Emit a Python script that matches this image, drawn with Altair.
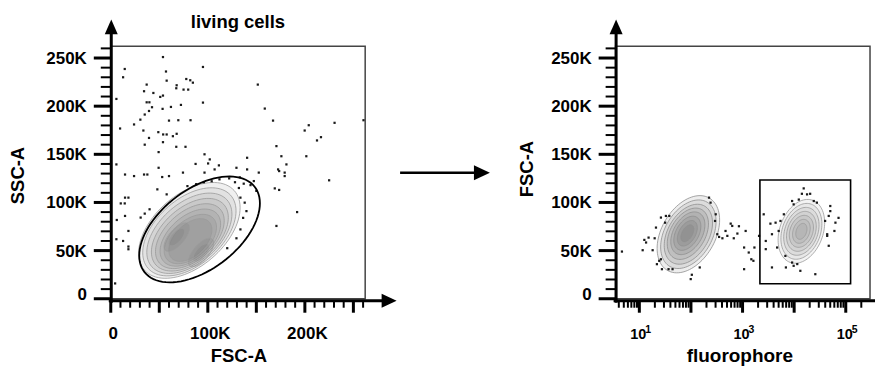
import altair as alt
import numpy as np
import pandas as pd

W, H = 255, 253
FONT = "Liberation Sans"
FULL = 262144

# ---------------- left panel: living cells (values in thousands) ----------------
left_fsc = [53.8, 14.4, 12.7, 56.9, 57.6, 95, 67.9, 77.8, 81.9, 84.6,
            79.8, 75, 67.5, 37, 43.9, 34.3, 5.8, 37, 39.8, 51,
            53.8, 53.4, 62, 72.3, 95, 42.5, 39.4, 35, 30.5, 24,
            9.6, 60, 69.6, 82.2, 33.6, 39.4, 49, 54, 57.6, 64,
            67.9, 67.5, 35, 49.3, 53.8, 77, 5.8, 14.7, 24, 34.3,
            37.7, 49.3, 60, 74.4, 87.4, 96.6, 102, 100.3, 111.4, 96.6,
            107, 129.5, 140.5, 140.5, 152.5, 151.5, 158.7, 167.2, 230.6, 260.4,
            199.8, 204, 212.5, 216.6, 201.5, 170.7, 175.8, 172.4, 173.5, 179.2,
            181, 179.2, 225, 192, 170.7, 169, 173.5, 6.2, 5.8, 10.3,
            14.4, 14.7, 18.2, 14.7, 18.2, 18.2, 18.2, 12.7, 4.5, 30.8,
            35, 40, 48, 57.6, 53, 132, 133.6, 138, 139.8, 136.4,
            133.6, 129.5, 120, 137, 147.4, 79, 88, 96, 104, 112,
            122, 128, 133, 144, 150]
left_ssc = [251, 238.6, 230, 236, 226.5, 240.7, 221.7, 228.2, 226.9, 224.4,
            217.2, 217.2, 218.6, 222.4, 213.7, 215.5, 207.5, 204, 204, 209.6,
            211, 197.2, 199.2, 201.3, 203.7, 198.9, 195, 191.3, 186, 181,
            176.8, 185, 185.4, 185.4, 174.7, 167, 173, 170.6, 170.6, 168.8,
            171.3, 157.8, 160, 152.3, 162.6, 157.8, 139.5, 129, 127.4, 129,
            129, 136, 127.4, 131, 140, 150, 144.7, 140.5, 138.5, 131,
            134.3, 136, 146.4, 134.3, 131, 222.4, 197.5, 185, 182.7, 185.4,
            174.7, 180.2, 164.4, 167.8, 148, 158.5, 148, 134.3, 132.6, 131,
            139.5, 127.4, 123, 90, 75.6, 114.6, 113, 81.8, 61.8, 99,
            99, 105, 105, 86, 70.4, 54.2, 51.4, 60, 15.9, 84.3,
            88.4, 92.9, 113.6, 108.4, 126.4, 115, 105, 99.8, 91, 84,
            72, 62.8, 52.5, 119.5, 122.2, 117, 119, 121, 122, 124,
            125, 121, 126, 118, 112]

# density contour levels (thousands): centre, semi-axes, angle
left_cont_cx = [81, 81, 81, 81.5, 81.5, 82, 82, 82, 68, 68, 93, 93]
left_cont_cy = [71, 69.5, 68, 66.5, 65, 63.5, 62, 61, 64, 64, 48, 48]
left_cont_a = [62, 57, 52, 47, 42, 37, 32, 27, 18, 11, 18, 11]
left_cont_b = [37, 34, 31, 28, 25, 22, 19, 16, 8, 5, 8, 5]
left_cont_ang = [42, 42, 42, 42, 42, 42, 42, 45, 50, 50, 50, 50]

# living-cell gate (ellipse)
gate_cx, gate_cy, gate_a, gate_b, gate_ang = [91.5], [72], [72], [41.3], [38]

# ---------------- right panel: fluorophore vs FSC-A ----------------
right_fluo = [4.6, 12.5, 11.6, 13.5, 15.1, 18.1, 19.8, 21, 26.2, 32.7,
              38, 31.6, 21.9, 24.3, 26.2, 27.4, 36.8, 44, 99, 104,
              148, 224, 240, 302, 293, 324, 351, 407, 507, 589,
              631, 794, 851, 468, 676, 1148, 1072, 1318, 1479, 1622,
              1072, 1698, 2089, 2570, 2818, 2818, 3467, 4365, 3715, 3715,
              4677, 5012, 5433, 6918, 6310, 9120, 9772, 12300, 15310, 14125,
              17780, 20420, 23990, 27540, 50120, 50120, 46770, 39810, 63100, 72440,
              60260, 43650, 43650, 46770, 9120, 9772, 11480, 13180, 25700, 6760]
right_fsc = [49, 61.1, 50.4, 58.4, 63.5, 50.4, 62.8, 73.9, 84.3, 86,
             86, 79, 35.9, 39.4, 41, 30.7, 30.7, 30.7, 20.4, 24.9,
             32.5, 105, 99.8, 87.7, 80.8, 67, 64.2, 62.8, 65.3, 78,
             75.6, 67.7, 75.3, 70.4, 62.8, 70.4, 53.2, 48, 41, 39.4,
             30.7, 53.2, 65.3, 87.7, 60, 51.5, 78, 79, 67, 32.5,
             53.2, 70.4, 80.8, 32.5, 87.7, 101.5, 98, 103, 114.6, 109,
             108.4, 109, 101.5, 99.8, 96.3, 91, 86, 80.8, 79, 84,
             70.4, 67, 65.3, 55, 37.6, 34.2, 36, 29, 25.5, 44.5]

# contours (log10 centre, FSC-A centre in thousands, semi-axes in decades, angle)
# negative population
neg_cont_cx = [1.95, 1.95, 1.95, 1.94, 1.94, 1.93, 1.93, 1.93]
neg_cont_cy = [67, 67, 67, 67.5, 68, 68, 68, 68]
neg_cont_a = [0.81, 0.72, 0.63, 0.54, 0.45, 0.36, 0.27, 0.18]
neg_cont_b = [0.52, 0.46, 0.40, 0.34, 0.28, 0.22, 0.16, 0.10]
neg_cont_ang = [60, 60, 60, 60, 60, 60, 60, 60]
# positive population
pos_cont_cx = [4.14, 4.14, 4.14, 4.14, 4.14, 4.14, 4.14]
pos_cont_cy = [70, 70, 70, 70, 70, 70, 70]
pos_cont_a = [0.64, 0.56, 0.48, 0.40, 0.32, 0.24, 0.16]
pos_cont_b = [0.42, 0.37, 0.32, 0.27, 0.22, 0.16, 0.10]
pos_cont_ang = [70, 70, 70, 70, 70, 70, 70]

# positive gate (rectangle)
rgate_x1, rgate_x2, rgate_y1, rgate_y2 = [2170], [124000], [15.5], [123.3]

# axis tick labels
lin_ticks = [0, 50000, 100000, 150000, 200000, 250000]
y_tick_labels = ["0", "50K", "100K", "150K", "200K", "250K"]
lx_label_vals = [0, 100000, 200000]
lx_label_text = ["0", "100K", "200K"]
rx_label_vals = [10, 1000, 100000]
rx_label_base = ["10", "10", "10"]
rx_label_exp = ["1", "3", "5"]
decades = [10, 100, 1000, 10000, 100000]

LOG_LO, LOG_HI = 0.54, 5.47
YK = (W / (LOG_HI - LOG_LO)) / (H / (FULL / 1000))  # thousands per decade-equivalent


def ellipse_df(cx, cy, a, b, ang, log=False):
    t = np.linspace(0, 2 * np.pi, 91)
    frames = []
    for i, (x0, y0, aa, bb, g) in enumerate(zip(cx, cy, a, b, ang)):
        th = np.radians(g)
        dx = aa * np.cos(t) * np.cos(th) - bb * np.sin(t) * np.sin(th)
        dy = aa * np.cos(t) * np.sin(th) + bb * np.sin(t) * np.cos(th)
        if log:
            xs = 10 ** (x0 + dx)
            ys = (y0 + dy * YK) * 1000
        else:
            xs = (x0 + dx) * 1000
            ys = (y0 + dy) * 1000
        frames.append(pd.DataFrame({"id": i, "o": np.arange(len(t)), "x": xs, "y": ys}))
    return pd.concat(frames, ignore_index=True)


one = pd.DataFrame({"k": [0]})
UP = "M0,-1L0.87,1L-0.87,1Z"
RIGHT = "M1,0L-1,-0.93L-1,0.93Z"
TXT = dict(font=FONT, fontWeight="bold", color="black")


def rule(x, x2, y, y2, w=3):
    return alt.Chart(one).mark_rule(color="black", strokeWidth=w, clip=False).encode(
        x=alt.value(x), x2=alt.value(x2), y=alt.value(y), y2=alt.value(y2))


def tri(shape, x, y, size=225):
    return alt.Chart(one).mark_point(shape=shape, size=size, filled=True, color="black",
                                     opacity=1, strokeWidth=0, clip=False).encode(
        x=alt.value(x), y=alt.value(y))


def title_axis(title, orient_y, tx, ty, size=18.5):
    kw = dict(labels=False, ticks=False, domain=False, grid=False,
              title=title, titleFont=FONT, titleFontSize=size, titleFontWeight="bold",
              titleColor="black", titleX=tx, titleY=ty, titleAlign="center",
              titleBaseline="alphabetic")
    if orient_y:
        kw["titleAngle"] = 270
    return alt.Axis(**kw)


ly_scale = alt.Scale(domain=[0, FULL], nice=False, zero=False)
lx_scale = alt.Scale(domain=[0, FULL], nice=False, zero=False)
rx_scale = alt.Scale(type="log", domain=[10 ** LOG_LO, 10 ** LOG_HI], nice=False)

LY_AXIS = title_axis("SSC-A", True, -87, 129)
RY_AXIS = title_axis("FSC-A", True, -83, 122.5)
LX_AXIS = title_axis("FSC-A", False, 128, 63)
RX_AXIS = title_axis("fluorophore", False, 124, 63, 19)


def LX(f):
    return alt.X(f, scale=lx_scale, axis=LX_AXIS)


def LY(f):
    return alt.Y(f, scale=ly_scale, axis=LY_AXIS)


def RX(f):
    return alt.X(f, scale=rx_scale, axis=RX_AXIS)


def RY(f):
    return alt.Y(f, scale=ly_scale, axis=RY_AXIS)


minor_lin = pd.DataFrame({"v": [v * 1000 for v in range(10, 261, 10) if v % 50]})
major_lin = pd.DataFrame({"v": lin_ticks})
ylab = pd.DataFrame({"v": lin_ticks, "t": y_tick_labels})


def y_ticks_and_labels(Y):
    minor = alt.Chart(minor_lin).mark_rule(color="black", strokeWidth=2, clip=False).encode(
        y=Y("v:Q"), x=alt.value(-10), x2=alt.value(0))
    major = alt.Chart(major_lin).mark_rule(color="black", strokeWidth=3, clip=False).encode(
        y=Y("v:Q"), x=alt.value(-17), x2=alt.value(0))
    labs = alt.Chart(ylab[ylab.v > 0]).mark_text(fontSize=17, align="right", baseline="middle",
                                                 dy=1, clip=False, **TXT).encode(
        y=Y("v:Q"), x=alt.value(-24), text="t:N")
    zero = alt.Chart(ylab[ylab.v == 0]).mark_text(fontSize=17, align="right", baseline="alphabetic",
                                                  dy=1, clip=False, **TXT).encode(
        y=Y("v:Q"), x=alt.value(-24), text="t:N")
    return [minor, major, labs, zero]


# ---------- left panel ----------
lpts = pd.DataFrame({"x": np.array(left_fsc) * 1000, "y": np.array(left_ssc) * 1000})
lcont = ellipse_df(left_cont_cx, left_cont_cy, left_cont_a, left_cont_b, left_cont_ang)
lgate = ellipse_df(gate_cx, gate_cy, gate_a, gate_b, gate_ang)

l_cont = alt.Chart(lcont).mark_line(stroke="#9a9a9a", strokeWidth=0.8, fill="#3a3a3a",
                                    fillOpacity=0.075).encode(
    x=LX("x:Q"), y=LY("y:Q"), detail="id:N", order="o:Q")
l_pts = alt.Chart(lpts).mark_square(size=5, color="#1a1a1a", opacity=1).encode(
    x=LX("x:Q"), y=LY("y:Q"))
l_gate = alt.Chart(lgate).mark_line(stroke="black", strokeWidth=1.8).encode(
    x=LX("x:Q"), y=LY("y:Q"), order="o:Q")

l_xminor = alt.Chart(minor_lin).mark_rule(color="black", strokeWidth=2, clip=False).encode(
    x=LX("v:Q"), y=alt.value(H + 2), y2=alt.value(H + 9))
l_xmajor = alt.Chart(major_lin).mark_rule(color="black", strokeWidth=3, clip=False).encode(
    x=LX("v:Q"), y=alt.value(H + 2), y2=alt.value(H + 14))
lxlab = pd.DataFrame({"v": lx_label_vals, "t": lx_label_text})
l_xlab = alt.Chart(lxlab).mark_text(fontSize=17, align="center", baseline="alphabetic",
                                    dx=2.5, clip=False, **TXT).encode(
    x=LX("v:Q"), y=alt.value(H + 40), text="t:N")

l_title = alt.Chart(one).mark_text(text="living cells", fontSize=18.5, align="center",
                                   baseline="alphabetic", **TXT).encode(
    x=alt.value(127.5), y=alt.value(-18))
anchor = alt.Chart(one).mark_rule(strokeOpacity=0, strokeWidth=0.1).encode(
    x=alt.value(-102), x2=alt.value(-101), y=alt.value(-37), y2=alt.value(-36))

left = alt.layer(
    l_cont, l_pts, l_gate, l_xminor, l_xmajor, l_xlab, *y_ticks_and_labels(LY),
    rule(0.5, 0.5, -22, H + 4), tri(UP, 0.5, -19.5),
    rule(-2, 275, H + 2, H + 2), tri(RIGHT, 279, H + 2),
    rule(290, 366, 126.7, 126.7, 2.5), tri(RIGHT, 372, 126.7, 256),
    l_title, anchor,
).properties(width=W, height=H)

# ---------- right panel ----------
rpts = pd.DataFrame({"x": right_fluo, "y": np.array(right_fsc) * 1000})
negcont = ellipse_df(neg_cont_cx, neg_cont_cy, neg_cont_a, neg_cont_b, neg_cont_ang, log=True)
poscont = ellipse_df(pos_cont_cx, pos_cont_cy, pos_cont_a, pos_cont_b, pos_cont_ang, log=True)
rgate = pd.DataFrame({"x1": rgate_x1, "x2": rgate_x2,
                      "y1": np.array(rgate_y1) * 1000, "y2": np.array(rgate_y2) * 1000})

r_neg = alt.Chart(negcont).mark_line(stroke="#8f8f8f", strokeWidth=0.8, fill="#333333",
                                     fillOpacity=0.09).encode(
    x=RX("x:Q"), y=RY("y:Q"), detail="id:N", order="o:Q")
r_pos = alt.Chart(poscont).mark_line(stroke="#9a9a9a", strokeWidth=0.8, fill="#3a3a3a",
                                     fillOpacity=0.06).encode(
    x=RX("x:Q"), y=RY("y:Q"), detail="id:N", order="o:Q")
r_pts = alt.Chart(rpts).mark_square(size=5, color="#1a1a1a", opacity=1).encode(
    x=RX("x:Q"), y=RY("y:Q"))
r_gate = alt.Chart(rgate).mark_rect(fillOpacity=0, stroke="black", strokeWidth=1.6).encode(
    x=RX("x1:Q"), x2="x2:Q", y=RY("y1:Q"), y2="y2:Q")

rx_minor = pd.DataFrame({"v": [m * 10 ** d for d in range(0, 6) for m in range(2, 10)
                               if 10 ** LOG_LO <= m * 10 ** d <= 10 ** LOG_HI]})
r_xminor = alt.Chart(rx_minor).mark_rule(color="black", strokeWidth=2, clip=False).encode(
    x=RX("v:Q"), y=alt.value(H + 2), y2=alt.value(H + 9))
r_xmajor = alt.Chart(pd.DataFrame({"v": decades})).mark_rule(
    color="black", strokeWidth=3, clip=False).encode(
    x=RX("v:Q"), y=alt.value(H + 2), y2=alt.value(H + 14))

rlabels = pd.DataFrame({"v": rx_label_vals, "base": rx_label_base, "exp": rx_label_exp})
r_lab = alt.Chart(rlabels).mark_text(fontSize=14.5, align="center", baseline="alphabetic",
                                     dx=-1, clip=False, **TXT).encode(
    x=RX("v:Q"), y=alt.value(H + 40), text="base:N")
r_exp = alt.Chart(rlabels).mark_text(fontSize=10.5, align="left", baseline="alphabetic",
                                     dx=6, clip=False, **TXT).encode(
    x=RX("v:Q"), y=alt.value(H + 34.5), text="exp:N")

right = alt.layer(
    r_neg, r_pos, r_pts, r_gate, r_xminor, r_xmajor, r_lab, r_exp, *y_ticks_and_labels(RY),
    rule(0.5, 0.5, -22, H + 4), tri(UP, 0.5, -19.5),
    rule(-2, 260, H + 2, H + 2),
).properties(width=W, height=H)

chart = alt.hconcat(left, right, spacing=251, bounds="flush").properties(
    padding={"left": 0, "top": 0, "right": 0, "bottom": 0}
).configure_view(stroke="#444444", strokeWidth=1.5)

chart.save("out.html", embed_options={"renderer": "svg", "actions": False})
